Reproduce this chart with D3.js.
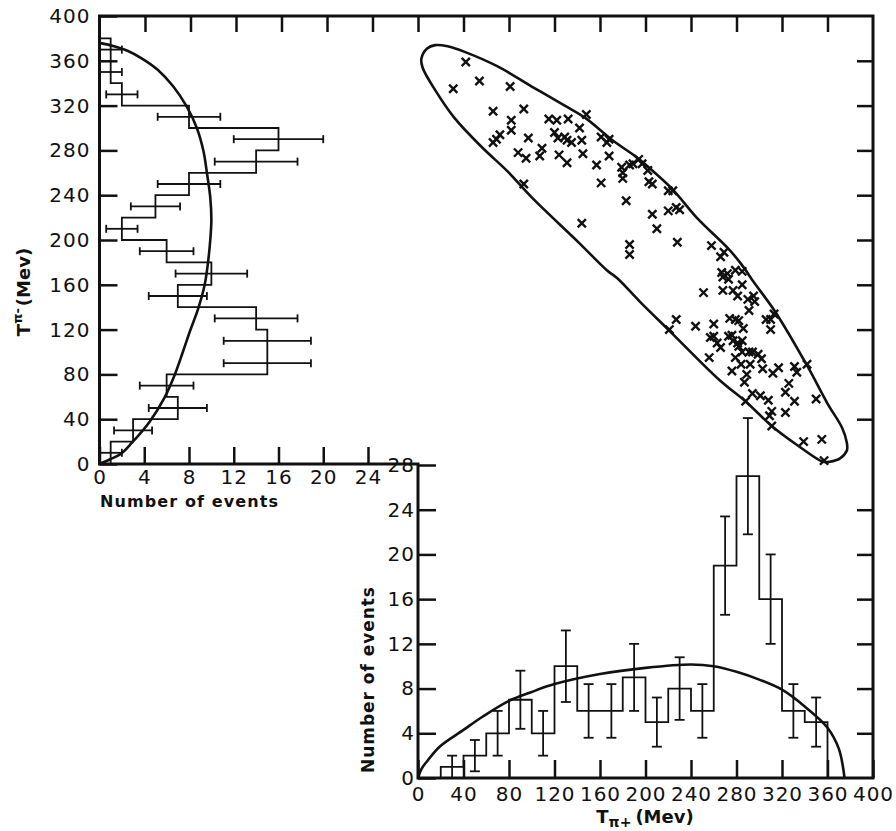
<!DOCTYPE html>
<html>
<head>
<meta charset="utf-8">
<script src="https://cdn.jsdelivr.net/npm/d3@7"></script>
<style>
  body { margin: 0; background: #fff; }
  svg { display: block; font-family: "DejaVu Sans", sans-serif; }
  .title { font-weight: bold; fill: #111; }
</style>
</head>
<body>
<div id="chart"></div>
<script>
// T(pi-) histogram on the left: lower bin edges (MeV), counts, error half-widths
const tMinusBins = [0, 20, 40, 60, 80, 100, 120, 140, 160, 180, 200, 220, 240, 260, 280, 300, 320, 340, 360];
const tMinusCounts = [1, 3, 7, 6, 15, 15, 14, 7, 10, 6, 2, 5, 8, 14, 16, 8, 2, 1, 1];
const tMinusErrors = [1, 1.7, 2.6, 2.4, 3.9, 3.9, 3.7, 2.6, 3.2, 2.4, 1.4, 2.2, 2.8, 3.7, 4, 2.8, 1.4, 1, 1];

// T(pi+) histogram at the bottom
const tPlusBins = [0, 20, 40, 60, 80, 100, 120, 140, 160, 180, 200, 220, 240, 260, 280, 300, 320, 340];
const tPlusCounts = [0, 1, 2, 4, 7, 4, 10, 6, 6, 9, 5, 8, 6, 19, 27, 16, 6, 5];
const tPlusErrors = [0, 1, 1.4, 2, 2.6, 2, 3.2, 2.4, 2.4, 3, 2.2, 2.8, 2.4, 4.4, 5.2, 4, 2.4, 2.2];
const binWidth = 20;

// phase space curves, [T, events]
const tMinusCurve = [[0, 0], [4, 0.9], [9, 1.9], [19, 2.9], [38, 4.5], [59, 5.8], [79, 6.7], [100, 7.45],
  [119, 8.1], [138, 8.8], [160, 9.4], [180, 9.7], [200, 9.9], [218, 10], [238, 9.9], [260, 9.6],
  [279, 9.3], [300, 8.7], [319, 7.8], [337, 6.6], [352, 5.2], [362, 3.8], [369, 2.5], [373, 1.3], [376, 0]];
const tPlusCurve = [[0, 0], [3, 0.8], [8, 1.5], [19, 2.8], [40, 4.3], [57, 5.5], [80, 6.9], [100, 7.7],
  [120, 8.4], [160, 9.3], [200, 9.85], [240, 10.15], [260, 10], [280, 9.5], [300, 8.8], [320, 7.9],
  [340, 6.4], [360, 4.5], [370, 2.6], [375, 0]];

// Dalitz boundary, [T(pi+), T(pi-)]
const boundary = [[3, 362], [8, 371], [15, 374], [26, 373], [41, 368], [70, 355], [100, 337], [129, 320],
  [147, 309], [171, 289], [192, 274], [206, 262], [224, 245], [245, 220], [274, 191], [286, 176],
  [294, 164], [314, 136], [342, 88], [360, 54], [373, 32], [377, 19], [377, 12], [371, 5], [362, 2],
  [356, 2], [336, 15], [312, 33], [289, 55], [265, 75], [222, 118], [195, 145], [175, 166], [166, 173],
  [142, 197], [100, 238], [79, 261], [56, 283], [32, 309], [15, 334], [4, 354]];

// events, [T(pi+), T(pi-)]
const events = [[42, 359], [31, 335], [54, 342], [81, 337], [66, 315], [93, 317], [82, 307], [82, 298],
  [72, 294], [69, 290], [66, 287], [97, 291], [115, 308], [122, 307], [132, 308], [148, 312], [142, 300],
  [120, 296], [123, 291], [129, 292], [131, 289], [135, 287], [144, 289], [88, 278], [95, 273], [107, 275],
  [109, 282], [124, 276], [131, 269], [145, 277], [93, 250], [157, 267], [161, 251], [183, 235], [144, 215],
  [186, 196], [186, 187], [168, 275], [161, 292], [166, 287], [168, 290], [179, 265], [180, 260], [180, 255],
  [186, 267], [189, 268], [194, 272], [197, 268], [202, 262], [203, 252], [206, 250], [220, 244], [224, 244],
  [206, 223], [220, 226], [227, 229], [230, 227], [210, 210], [228, 198], [258, 195], [269, 189], [266, 185],
  [267, 171], [272, 170], [279, 173], [285, 172], [273, 165], [285, 160], [268, 167], [251, 153], [268, 155],
  [277, 155], [281, 150], [290, 147], [295, 150], [296, 145], [291, 137], [306, 129], [310, 129], [313, 134],
  [310, 120], [227, 129], [221, 120], [244, 123], [260, 125], [274, 130], [279, 129], [282, 128], [286, 121],
  [257, 113], [260, 114], [263, 108], [266, 104], [273, 114], [276, 115], [277, 110], [281, 108], [285, 110],
  [282, 105], [285, 100], [291, 100], [294, 100], [299, 98], [302, 94], [256, 95], [279, 95], [284, 89],
  [292, 89], [303, 85], [276, 83], [289, 80], [287, 73], [312, 81], [317, 86], [331, 87], [333, 82],
  [342, 89], [326, 72], [323, 64], [331, 56], [350, 58], [294, 63], [301, 61], [308, 57], [288, 56],
  [311, 47], [309, 43], [323, 46], [311, 34], [339, 20], [355, 22], [357, 3]];

// tick values
const energyTicks = [0, 40, 80, 120, 160, 200, 240, 280, 320, 360, 400];
const topTicks = [-240, -200, -160, -120, -80, -40, 0, 40, 80, 120, 160, 200, 240, 280, 320, 360];
const leftCountTicks = [0, 4, 8, 12, 16, 20, 24];
const lowCountTicks = [0, 4, 8, 12, 16, 20, 24, 28];

const svg = d3.select("#chart").append("svg").attr("width", 896).attr("height", 831);

const xT = d3.scaleLinear().domain([0, 400]).range([418, 873]); // T pi+
const yT = d3.scaleLinear().domain([0, 400]).range([464, 16]);  // T pi-
const xN = d3.scaleLinear().domain([0, 24]).range([99.5, 368]); // events, left histogram
const yN = d3.scaleLinear().domain([0, 28]).range([778, 465]);  // events, lower histogram

function tidy(g) {
  g.attr("font-family", null).attr("font-size", null);
  g.select(".domain").remove();
  g.selectAll(".tick line").attr("stroke", "#111").attr("stroke-width", 2.5);
  g.selectAll(".tick text").attr("font-size", 20).attr("fill", "#111").attr("letter-spacing", 1);
}

// frame
svg.append("path")
  .attr("d", `M${xN(0)},${yT(400)}H${xT(400)}V${yN(0)}H${xT(0)}V${yT(0)}H${xN(0)}Z`)
  .attr("fill", "none").attr("stroke", "#111").attr("stroke-width", 3);

// axes
svg.append("g").attr("transform", `translate(${xN(0)},0)`)
  .call(d3.axisLeft(yT).tickValues(energyTicks).tickSizeInner(-18).tickSizeOuter(0).tickPadding(9)).call(tidy);
svg.append("g").attr("transform", `translate(0,${yT(0)})`)
  .call(d3.axisBottom(xN).tickValues(leftCountTicks).tickSizeInner(-17).tickSizeOuter(0).tickPadding(6)).call(tidy);
svg.append("g").attr("transform", `translate(${xT(0)},0)`)
  .call(d3.axisLeft(yN).tickValues(lowCountTicks).tickSizeInner(-18).tickSizeOuter(0).tickPadding(3)).call(tidy);
svg.append("g").attr("transform", `translate(0,${yN(0)})`)
  .call(d3.axisBottom(xT).tickValues(energyTicks).tickSizeInner(-18).tickSizeOuter(0).tickPadding(9)).call(tidy);
svg.append("g").attr("transform", `translate(0,${yT(400)})`)
  .call(d3.axisTop(xT).tickValues(topTicks).tickSizeInner(-16).tickSizeOuter(0).tickFormat("")).call(tidy);
svg.append("g").attr("transform", `translate(${xT(400)},0)`)
  .call(d3.axisRight(yT).tickValues(energyTicks.slice(1, -1)).tickSizeInner(-16).tickSizeOuter(0).tickFormat("")).call(tidy);
svg.append("g").attr("transform", `translate(${xT(400)},0)`)
  .call(d3.axisRight(yN).tickValues(lowCountTicks.slice(1, -1)).tickSizeInner(-16).tickSizeOuter(0).tickFormat("")).call(tidy);

// left histogram (horizontal bars along T pi-)
const leftPts = [[0, 0]];
tMinusBins.forEach((lo, i) => {
  leftPts.push([tMinusCounts[i], lo], [tMinusCounts[i], lo + binWidth]);
});
leftPts.push([0, tMinusBins[tMinusBins.length - 1] + binWidth]);
svg.append("path").datum(leftPts)
  .attr("d", d3.line().x(d => xN(d[0])).y(d => yT(d[1])))
  .attr("fill", "none").attr("stroke", "#111").attr("stroke-width", 1.8);

const errL = svg.append("g").attr("stroke", "#111").attr("stroke-width", 1.8);
tMinusBins.forEach((lo, i) => {
  const y = yT(lo + binWidth / 2);
  const a = xN(Math.max(0, tMinusCounts[i] - tMinusErrors[i]));
  const b = xN(tMinusCounts[i] + tMinusErrors[i]);
  errL.append("line").attr("x1", a).attr("x2", b).attr("y1", y).attr("y2", y);
  errL.append("line").attr("x1", a).attr("x2", a).attr("y1", y - 4).attr("y2", y + 4);
  errL.append("line").attr("x1", b).attr("x2", b).attr("y1", y - 4).attr("y2", y + 4);
});

svg.append("path").datum(tMinusCurve)
  .attr("d", d3.line().x(d => xN(d[1])).y(d => yT(d[0])).curve(d3.curveCatmullRom))
  .attr("fill", "none").attr("stroke", "#111").attr("stroke-width", 2.6);

// bottom histogram
const lowPts = [];
tPlusBins.forEach((lo, i) => {
  lowPts.push([lo, tPlusCounts[i]], [lo + binWidth, tPlusCounts[i]]);
});
lowPts.push([tPlusBins[tPlusBins.length - 1] + binWidth, 0]);
svg.append("path").datum(lowPts)
  .attr("d", d3.line().x(d => xT(d[0])).y(d => yN(d[1])))
  .attr("fill", "none").attr("stroke", "#111").attr("stroke-width", 1.8);

const errB = svg.append("g").attr("stroke", "#111").attr("stroke-width", 1.8);
tPlusBins.forEach((lo, i) => {
  if (!tPlusErrors[i]) return;
  const x = xT(lo + binWidth / 2);
  const a = yN(Math.max(0, tPlusCounts[i] - tPlusErrors[i]));
  const b = yN(tPlusCounts[i] + tPlusErrors[i]);
  errB.append("line").attr("x1", x).attr("x2", x).attr("y1", a).attr("y2", b);
  errB.append("line").attr("x1", x - 5).attr("x2", x + 5).attr("y1", a).attr("y2", a);
  errB.append("line").attr("x1", x - 5).attr("x2", x + 5).attr("y1", b).attr("y2", b);
});

svg.append("path").datum(tPlusCurve)
  .attr("d", d3.line().x(d => xT(d[0])).y(d => yN(d[1])).curve(d3.curveCatmullRom))
  .attr("fill", "none").attr("stroke", "#111").attr("stroke-width", 2.6);

// Dalitz plot
svg.append("path").datum(boundary)
  .attr("d", d3.line().x(d => xT(d[0])).y(d => yT(d[1])).curve(d3.curveCatmullRomClosed))
  .attr("fill", "none").attr("stroke", "#111").attr("stroke-width", 2.6);

svg.append("g").selectAll("path").data(events).join("path")
  .attr("transform", d => `translate(${xT(d[0])},${yT(d[1])})`)
  .attr("d", d3.symbol(d3.symbolX, 46))
  .attr("fill", "none").attr("stroke", "#111").attr("stroke-width", 2.4);

// titles
svg.append("text").attr("class", "title")
  .attr("transform", "translate(30,292) rotate(-90)")
  .attr("text-anchor", "middle").attr("font-size", 18)
  .call(t => {
    t.append("tspan").text("T");
    t.append("tspan").attr("dy", -8).attr("font-size", 13).text("π-");
    t.append("tspan").attr("dy", 8).attr("dx", 2).text("(Mev)");
  });

svg.append("text").attr("class", "title")
  .attr("x", 189).attr("y", 507).attr("text-anchor", "middle").attr("font-size", 16)
  .attr("textLength", 178).attr("lengthAdjust", "spacing")
  .text("Number of events");

svg.append("text").attr("class", "title")
  .attr("transform", "translate(374,680) rotate(-90)")
  .attr("text-anchor", "middle").attr("font-size", 17)
  .attr("textLength", 186).attr("lengthAdjust", "spacing")
  .text("Number of events");

svg.append("text").attr("class", "title")
  .attr("x", 645).attr("y", 823).attr("text-anchor", "middle").attr("font-size", 18)
  .call(t => {
    t.append("tspan").text("T");
    t.append("tspan").attr("dy", 4).attr("font-size", 14).text("π+");
    t.append("tspan").attr("dy", -4).attr("dx", 4).text("(Mev)");
  });
</script>
</body>
</html>
